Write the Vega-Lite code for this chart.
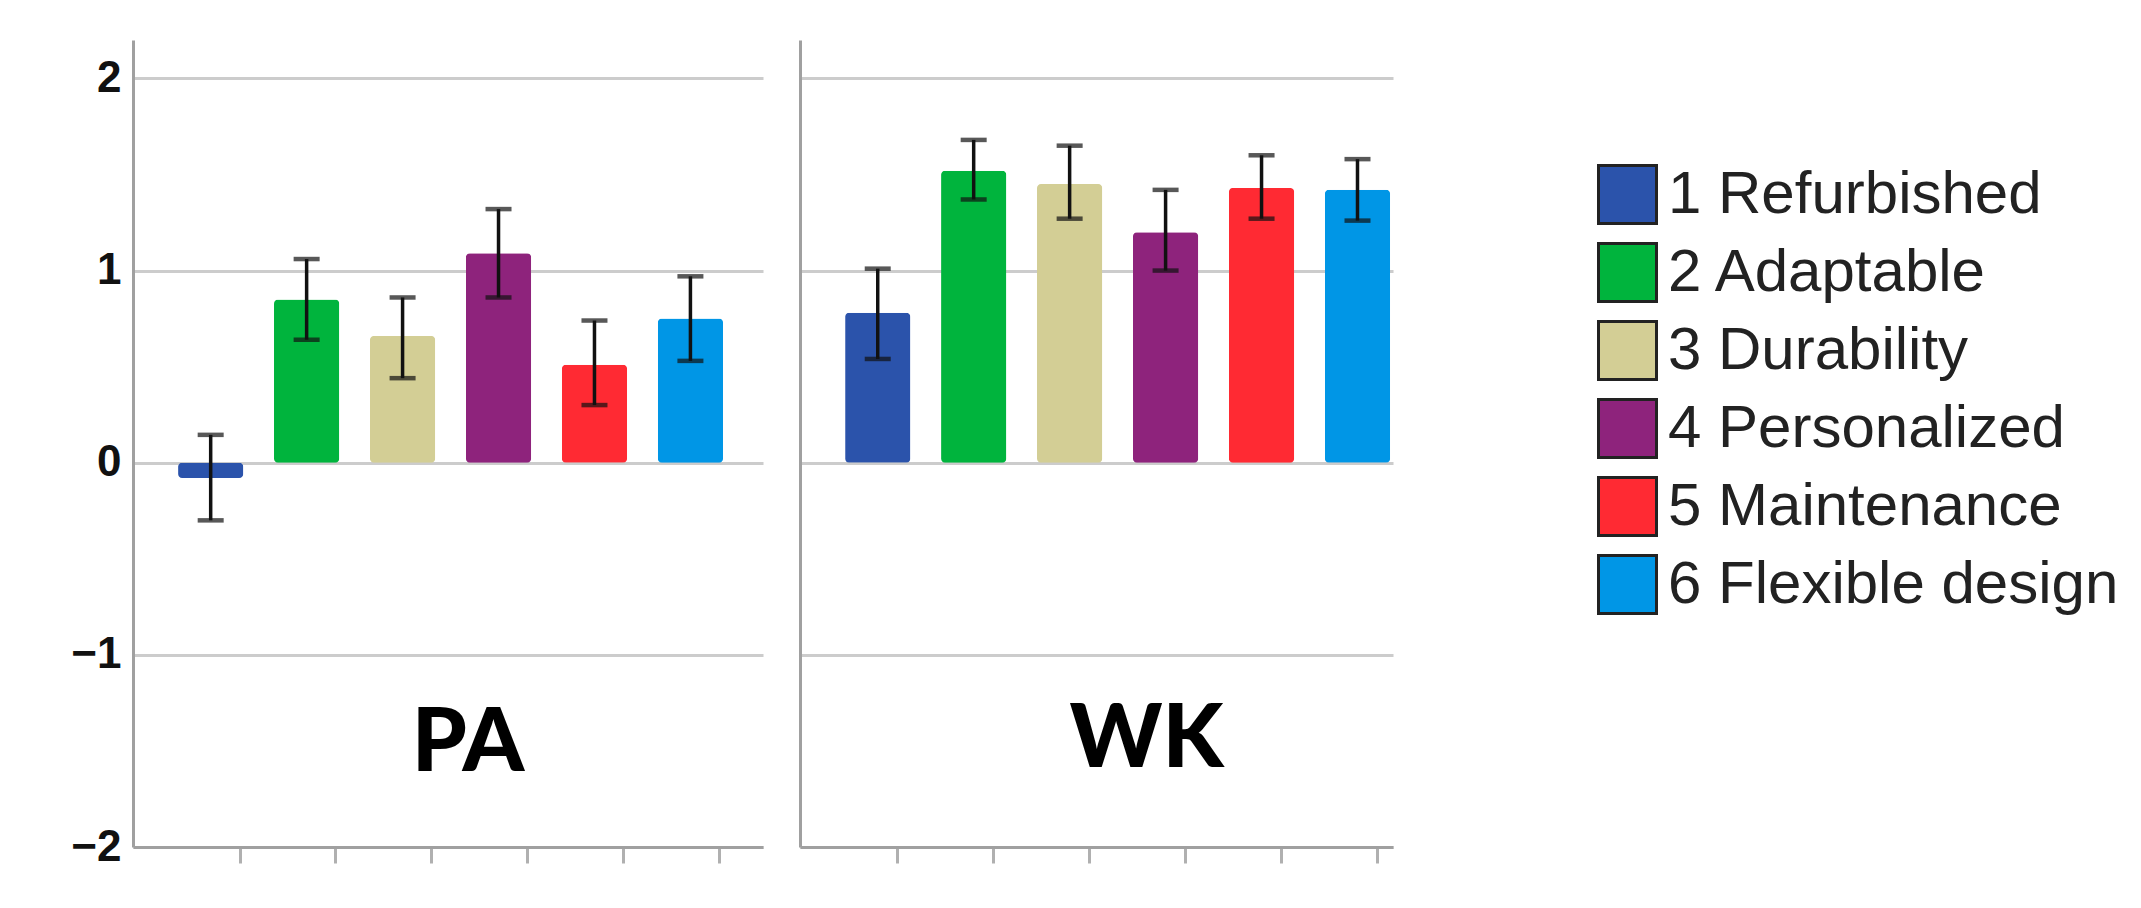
{
  "$schema": "https://vega.github.io/schema/vega-lite/v6.json",
  "background": "white",
  "padding": {"left": 70, "top": 40, "right": 0, "bottom": 0},
  "autosize": {"type": "pad"},
  "config": {"view": {"stroke": null}},
  "spacing": 37,
  "data": {"values": [
    {"panel": "PA", "cat": "1 Refurbished", "mean": -0.08, "lo": -0.30, "hi": 0.145},
    {"panel": "PA", "cat": "2 Adaptable", "mean": 0.85, "lo": 0.64, "hi": 1.06},
    {"panel": "PA", "cat": "3 Durability", "mean": 0.66, "lo": 0.44, "hi": 0.86},
    {"panel": "PA", "cat": "4 Personalized", "mean": 1.09, "lo": 0.86, "hi": 1.32},
    {"panel": "PA", "cat": "5 Maintenance", "mean": 0.51, "lo": 0.30, "hi": 0.74},
    {"panel": "PA", "cat": "6 Flexible design", "mean": 0.75, "lo": 0.53, "hi": 0.97},
    {"panel": "WK", "cat": "1 Refurbished", "mean": 0.78, "lo": 0.54, "hi": 1.01},
    {"panel": "WK", "cat": "2 Adaptable", "mean": 1.52, "lo": 1.37, "hi": 1.68},
    {"panel": "WK", "cat": "3 Durability", "mean": 1.45, "lo": 1.27, "hi": 1.65},
    {"panel": "WK", "cat": "4 Personalized", "mean": 1.20, "lo": 1.00, "hi": 1.42},
    {"panel": "WK", "cat": "5 Maintenance", "mean": 1.43, "lo": 1.27, "hi": 1.60},
    {"panel": "WK", "cat": "6 Flexible design", "mean": 1.42, "lo": 1.26, "hi": 1.58}
  ]},
  "hconcat": [
    {
      "width": 630, "height": 807,
      "transform": [{"filter": "datum.panel === 'PA'"}],
      "title": {"text": "PA", "orient": "bottom", "offset": -168, "font": "Lato", "fontSize": 88, "fontWeight": 900, "color": "black", "dx": 20, "anchor": "middle"},
      "encoding": {
        "x": {"field": "cat", "type": "nominal", "sort": null,
          "scale": {"paddingInner": 0.32, "paddingOuter": 0.443, "align": 0.53},
          "axis": {"title": null, "labels": false, "ticks": true, "tickSize": 16, "tickColor": "#b0b0b0", "tickWidth": 3, "domainColor": "#a0a0a0", "domainWidth": 3, "bandPosition": 0.95, "grid": false}}
      },
      "layer": [
        {"mark": {"type": "bar", "cornerRadius": 4},
         "encoding": {
           "y": {"field": "mean", "type": "quantitative",
             "scale": {"domain": [-2, 2.2], "nice": false},
             "axis": {"values": [-2, -1, 0, 1, 2], "format": "d", "title": null, "labelFont": "Liberation Sans", "labelFontSize": 44, "labelFontWeight": "bold", "labelColor": "#111", "labelPadding": 12, "ticks": false, "domainColor": "#a0a0a0", "domainWidth": 3, "grid": true, "gridColor": "#cccccc", "gridWidth": 3}},
           "color": {"field": "cat", "type": "nominal", "sort": null,
             "scale": {"domain": ["1 Refurbished", "2 Adaptable", "3 Durability", "4 Personalized", "5 Maintenance", "6 Flexible design"],
                       "range": ["#2B53AB", "#00B43D", "#D3CE95", "#8E237C", "#FF2A33", "#0096E6"]},
             "legend": {"title": null, "orient": "none", "legendX": 1464, "legendY": 124, "symbolType": "square", "symbolSize": 3364, "symbolStrokeColor": "#222222", "symbolStrokeWidth": 3, "labelFont": "Liberation Sans", "labelFontSize": 60, "labelColor": "#222222", "rowPadding": 7, "labelOffset": 10, "labelLimit": 700}}
         }},
        {"mark": {"type": "rule", "color": "#111111", "strokeWidth": 3.5},
         "encoding": {"y": {"field": "lo", "type": "quantitative"}, "y2": {"field": "hi"}}},
        {"mark": {"type": "tick", "color": "#111111", "size": 26, "thickness": 4.5},
         "encoding": {"y": {"field": "lo", "type": "quantitative"}}},
        {"mark": {"type": "tick", "color": "#111111", "size": 26, "thickness": 4.5},
         "encoding": {"y": {"field": "hi", "type": "quantitative"}}}
      ]
    },
    {
      "width": 593, "height": 807,
      "transform": [{"filter": "datum.panel === 'WK'"}],
      "title": {"text": "WK", "orient": "bottom", "offset": -168, "font": "Lato", "fontSize": 88, "fontWeight": 900, "color": "black", "dx": 50, "anchor": "middle"},
      "encoding": {
        "x": {"field": "cat", "type": "nominal", "sort": null,
          "scale": {"paddingInner": 0.32, "paddingOuter": 0.25, "align": 0.94},
          "axis": {"title": null, "labels": false, "ticks": true, "tickSize": 16, "tickColor": "#b0b0b0", "tickWidth": 3, "domainColor": "#a0a0a0", "domainWidth": 3, "bandPosition": 0.8, "grid": false}}
      },
      "layer": [
        {"mark": {"type": "bar", "cornerRadius": 4},
         "encoding": {
           "y": {"field": "mean", "type": "quantitative",
             "scale": {"domain": [-2, 2.2], "nice": false},
             "axis": {"values": [-2, -1, 0, 1, 2], "title": null, "labels": false, "ticks": false, "domainColor": "#a0a0a0", "domainWidth": 3, "grid": true, "gridColor": "#cccccc", "gridWidth": 3}},
           "color": {"field": "cat", "type": "nominal", "sort": null}
         }},
        {"mark": {"type": "rule", "color": "#111111", "strokeWidth": 3.5},
         "encoding": {"y": {"field": "lo", "type": "quantitative"}, "y2": {"field": "hi"}}},
        {"mark": {"type": "tick", "color": "#111111", "size": 26, "thickness": 4.5},
         "encoding": {"y": {"field": "lo", "type": "quantitative"}}},
        {"mark": {"type": "tick", "color": "#111111", "size": 26, "thickness": 4.5},
         "encoding": {"y": {"field": "hi", "type": "quantitative"}}}
      ]
    }
  ],
  "resolve": {"scale": {"x": "independent"}}
}
